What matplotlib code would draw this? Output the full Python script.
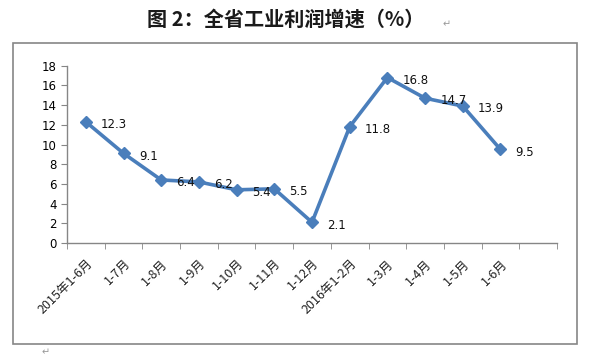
import matplotlib.pyplot as plt
from matplotlib.patches import Rectangle
from matplotlib.ticker import FixedLocator

plt.rcParams["font.family"] = ["Noto Sans CJK SC", "DejaVu Sans"]

categories = ["2015年1-6月", "1-7月", "1-8月", "1-9月", "1-10月", "1-11月", "1-12月",
              "2016年1-2月", "1-3月", "1-4月", "1-5月", "1-6月"]
growth = [12.3, 9.1, 6.4, 6.2, 5.4, 5.5, 2.1, 11.8, 16.8, 14.7, 13.9, 9.5]
n_slots = 13  # the axis leaves one empty category at the end

W, H = 595, 357
fig = plt.figure(figsize=(W / 100, H / 100), dpi=100)

# outer chart frame
fig.patches.append(Rectangle((13 / W, 1 - 344 / H), (577 - 13) / W, (344 - 42.5) / H,
                             transform=fig.transFigure, fill=False,
                             edgecolor="#868686", linewidth=1.2))

fig.text(286 / W, 1 - 19 / H, "图 2：全省工业利润增速（%）", ha="center", va="center",
         fontsize=14.5, fontweight="bold", color="#1a1a1a")
fig.text(447 / W, 1 - 24 / H, "↵", ha="center", va="center", fontsize=7, color="#999999")
fig.text(46 / W, 1 - 352 / H, "↵", ha="center", va="center", fontsize=7, color="#999999")

ax = fig.add_axes([67 / W, 1 - 243 / H, (557 - 67) / W, (243 - 65.7) / H])
x = list(range(len(growth)))
ax.plot(x, growth, color="#4A7EBB", linewidth=2.6, marker="D", markersize=6,
        markerfacecolor="#4A7EBB", markeredgecolor="#4A7EBB", zorder=3)

for xi, v in zip(x, growth):
    ax.annotate(f"{v}", (xi, v), xytext=(11, -2), textcoords="offset points",
                ha="left", va="center", fontsize=8.5, color="#111111",
                family=["DejaVu Sans"])

ax.set_xlim(-0.5, n_slots - 0.5)
ax.set_ylim(0, 18)
ax.set_yticks(range(0, 19, 2))
ax.set_xticks(x)
ax.set_xticklabels(categories, rotation=45, ha="right", rotation_mode="anchor",
                   fontsize=9, color="#222222")
ax.xaxis.set_minor_locator(FixedLocator([i - 0.5 for i in range(n_slots + 1)]))
ax.tick_params(axis="x", which="major", length=0, pad=10)
ax.tick_params(axis="x", which="minor", length=4, color="#868686", direction="out")
ax.tick_params(axis="y", length=4, color="#868686", direction="out", labelsize=8.5)
for lab in ax.get_yticklabels():
    lab.set_family(["DejaVu Sans"])

for side in ("top", "right"):
    ax.spines[side].set_visible(False)
for side in ("left", "bottom"):
    ax.spines[side].set_color("#868686")
    ax.spines[side].set_linewidth(1.0)

fig.savefig("out.png", dpi=100)
